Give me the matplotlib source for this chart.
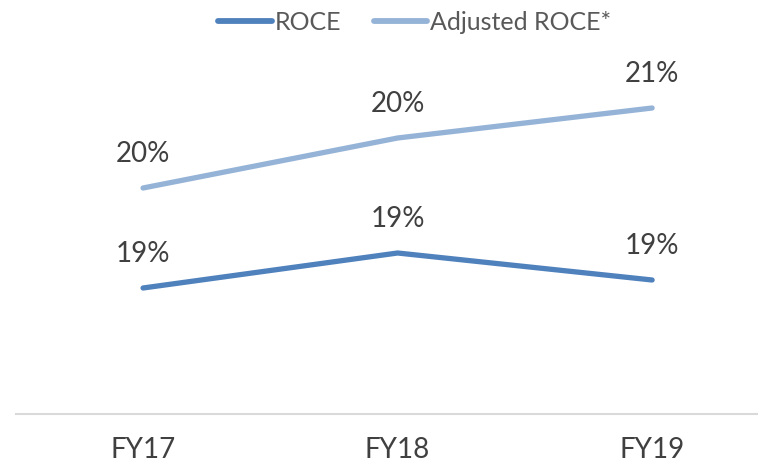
import matplotlib.pyplot as plt

# Data
years = ['FY17', 'FY18', 'FY19']
roce = [18.8, 19.15, 18.88]           # ROCE (%)
adj_roce = [19.8, 20.3, 20.6]         # Adjusted ROCE* (%)

plt.rcParams['font.family'] = ['Lato', 'DejaVu Sans']

fig = plt.figure(figsize=(7.58, 4.73), dpi=100)
ax = fig.add_axes([0, 0, 1, 1])

x = range(len(years))
dark = '#4F81BD'
light = '#95B3D7'

ax.plot(x, roce, color=dark, lw=3.8, solid_capstyle='round', label='ROCE')
ax.plot(x, adj_roce, color=light, lw=3.8, solid_capstyle='round', label='Adjusted ROCE*')

# Value labels
for series in (roce, adj_roce):
    for i, v in enumerate(series):
        ax.annotate(f'{v:.0f}%', (i, v), xytext=(0, 19), textcoords='offset points',
                    ha='center', va='baseline', fontsize=20, color='#404040')

# Axis scaling: ~100 px per point, hidden y-axis
ax.set_ylim(16.95, 21.68)
ax.set_xlim(-0.562, 2.416)
ymin = 18.8 - (414 - 288) / 100
ax.plot([-0.5, 2.5], [ymin, ymin], color='#d9d9d9', lw=1.5, clip_on=True)

for s in ax.spines.values():
    s.set_visible(False)
ax.set_yticks([])
ax.set_xticks([])

# Category labels
for i, name in enumerate(years):
    ax.text(i, 17.1, name, ha='center', va='baseline', fontsize=20, color='#404040')

leg = ax.legend(loc='center', bbox_to_anchor=(0.547, 0.953), ncol=2, frameon=False,
                fontsize=18, handlelength=2.15, handletextpad=0.12, columnspacing=1.3,
                labelcolor='#595959')
for h in leg.get_lines():
    h.set_linewidth(4.2)
    h.set_solid_capstyle('round')

plt.savefig('out.png', dpi=100)
